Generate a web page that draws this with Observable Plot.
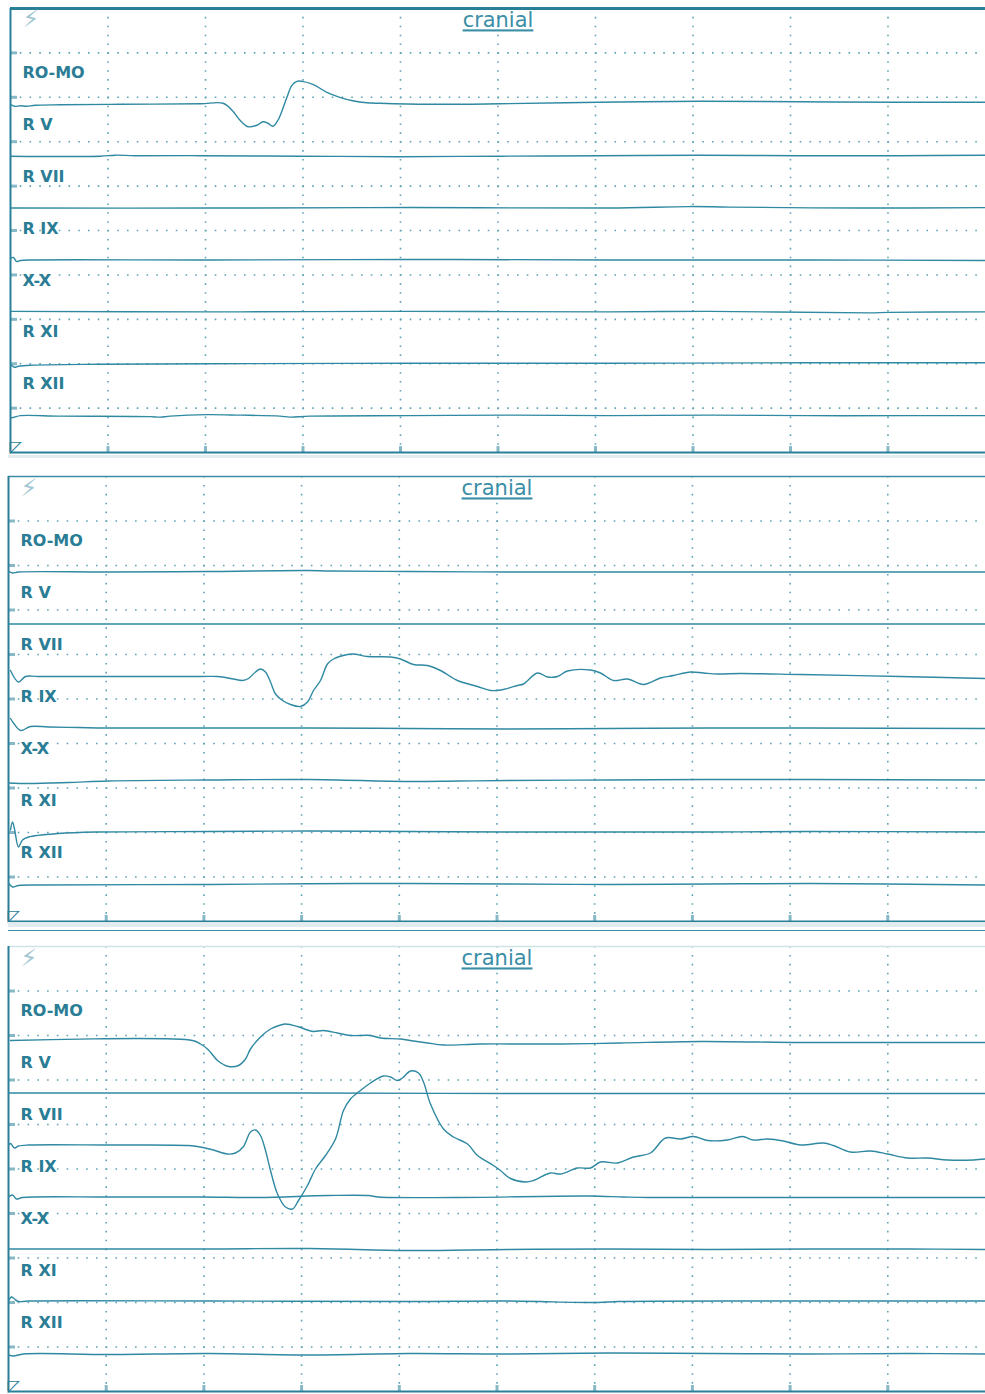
<!DOCTYPE html>
<html><head><meta charset="utf-8">
<script src="https://cdn.jsdelivr.net/npm/d3@7"></script>
<script src="https://cdn.jsdelivr.net/npm/@observablehq/plot@0.6"></script>
<style>
body{margin:0;background:#fff;}
#wrap{position:relative;width:985px;height:1394px;overflow:hidden;background:#fff;}
.panel{position:absolute;left:0;}
.band{position:absolute;left:8px;width:977px;}
</style></head><body><div id="wrap"></div>
<script>
// ---- data (time in sweep units, 977 per 10 divisions; amplitude in units, 44.5 per division, positive up)
const channels = ["RO-MO", "R V", "R VII", "R IX", "X-X", "R XI", "R XII"];
const title = "cranial";

// Panel 1
const p1_ROMO = [[0,-0.5],[4,-2.5],[10,-2],[16,-2.5],[25,-1.5],[50,-1],[110,-0.5],[190,0],[213,0.5],[222,-6.5],[230,-16.5],[238,-23],[247,-21.5],[253,-18],[258,-19.5],[263,-22.5],[268,-16.5],[273,-4.5],[277,6.5],[282,18.5],[287,22.5],[292,22.5],[303,19.5],[317,11.5],[330,6.5],[343,3],[357,1],[370,0.5],[420,-0.5],[490,0],[590,1.5],[690,2.5],[790,2],[890,1.5],[977,1.5]];
const p1_RV = [[0,-0.5],[90,-0.5],[105,0.5],[125,0],[190,0],[290,-0.5],[390,-1],[490,-0.5],[590,0],[690,0.5],[790,0],[890,0],[977,0.5]];
const p1_RVII = [[0,-0.5],[200,-0.5],[400,0],[600,-0.5],[680,1],[720,0.5],[850,-0.5],[977,0]];
const p1_RIX = [[0,1],[3,2],[6,-2],[10,-1],[20,-0.5],[200,-0.5],[400,0],[600,-0.5],[800,-0.5],[977,-1]];
const p1_XX = [[0,0],[200,-0.5],[400,0],[600,-0.5],[700,0],[860,-1.5],[880,-1],[977,-0.5]];
const p1_RXI = [[0,-1],[4,-4],[8,-3],[20,-2],[90,-1],[200,-0.5],[400,0],[600,0],[800,0.5],[977,0.5]];
const p1_RXII = [[0,-3],[4,-2],[10,-0.5],[50,-1],[140,-1.5],[150,-2],[160,-1],[197,0.5],[230,0],[270,-1],[280,-2],[300,-1],[400,-0.5],[500,0],[600,-0.5],[700,0],[800,-0.5],[900,-0.5],[977,-0.5]];

// Panel 2
const p2_ROMO = [[0,1],[4,-1],[10,0],[100,0],[200,0.5],[300,1.5],[320,1],[400,0.5],[500,0],[600,0],[700,0],[800,0],[977,0]];
const p2_RV = [[0,0],[200,0],[400,0],[600,0],[800,0],[977,0]];
const p2_RVII = [[2,5.5],[10,-6],[17,-0.5],[30,-0.5],[192,-0.5],[209,-0.5],[225,-3],[234,-4.5],[240,-2.5],[247,4],[252,7],[257,4],[262,-6],[267,-18],[274,-24.5],[282,-28.5],[292,-30.5],[299,-26],[305,-14.5],[312,-4.5],[319,12],[325,17],[339,21.5],[345,22],[359,19.5],[382,19],[392,17],[405,11.5],[419,10.5],[432,5.5],[449,-4.5],[469,-10.5],[482,-14.5],[492,-14],[509,-9.5],[515,-8],[529,3],[539,-1],[549,-0.5],[559,5],[582,6],[592,3],[605,-4.5],[619,-3],[635,-8.5],[652,-2],[665,0.5],[682,4],[695,3],[709,2],[732,2.5],[792,1.5],[892,-0.5],[977,-2.5]];
const p2_RIX = [[2,9.5],[5,5],[12,-2.5],[22,1.5],[40,1],[70,0.5],[100,0],[300,0],[400,-0.5],[500,-1],[600,-0.5],[700,0],[800,0],[977,-0.5]];
const p2_XX = [[0,-3],[20,-3.5],[60,-2.5],[100,-1],[200,0],[300,0.5],[400,-1.5],[450,-1],[500,-0.5],[600,0],[700,0.5],[800,0.5],[977,0]];
const p2_RXI = [[2,2],[4,10],[6,3],[10,-15],[14,-8],[20,-5],[50,-1.5],[90,0],[200,0.5],[300,1],[400,0.5],[500,0],[600,0],[700,0],[800,0.5],[977,0]];
const p2_RXII = [[0,1],[4,-3],[10,-1.5],[30,-1],[200,-0.5],[350,0.5],[500,0],[600,-0.5],[700,0],[800,0.5],[977,-1]];

// Panel 3
const p3_ROMO = [[2,1.5],[184,1.5],[192,-2],[199,-7],[209,-18.5],[215,-22.5],[220,-24.5],[230,-23.5],[237,-17],[242,-7],[252,5],[262,13],[272,17],[277,18],[289,15.5],[299,12],[305,10.5],[315,11.5],[329,9],[342,6.5],[362,6.5],[372,4],[392,3],[405,1],[419,-1],[435,-3],[472,-2],[552,-2],[612,-1],[692,0.5],[792,-0.5],[892,-0.5],[977,-0.5]];
const p3_RV = [[0,1],[150,1],[300,1],[500,0.5],[700,0.5],[900,0.5],[977,0.5]];
const p3_RVII = [[0,0.5],[2,2.5],[6,-2],[10,0],[20,1],[100,1],[180,0.5],[192,-1],[205,-4],[219,-8],[227,-7],[235,-0.5],[242,14],[247,16],[252,10.5],[257,-4.5],[262,-24.5],[269,-48],[277,-61],[284,-63],[290,-54.5],[299,-39.5],[307,-23],[317,-9.5],[327,7],[335,35.5],[342,47],[352,55.5],[362,63],[375,70],[382,69],[389,65.5],[394,68],[402,75],[410,73],[415,64],[422,42],[435,17],[445,9],[459,2],[469,-9.5],[485,-19.5],[492,-24.5],[502,-32.5],[517,-36],[525,-34.5],[542,-27],[552,-28],[569,-22],[582,-22],[592,-16],[609,-17],[625,-11],[642,-7],[657,8],[672,7],[685,9.5],[699,5.5],[719,6],[734,9.5],[745,6],[759,7],[775,5],[792,1],[815,3],[825,0.5],[842,-6],[862,-5],[879,-8],[899,-12],[919,-12],[939,-14],[965,-14],[977,-13]];
const p3_RIX = [[0,1],[4,3],[8,-1],[14,0.5],[100,1],[192,1],[250,0.5],[320,2.5],[360,2.5],[370,1],[445,0.5],[580,2],[615,1],[640,0.5],[800,0.5],[977,0.5]];
const p3_XX = [[0,1],[100,1],[200,1],[300,1.5],[400,-0.5],[500,0.5],[600,1],[700,0.5],[800,1],[900,1],[977,0.5]];
const p3_RXI = [[0,1],[3,5],[6,3],[10,0.5],[20,1],[200,1],[400,0.5],[500,1],[590,-0.5],[610,0.5],[800,1],[977,1]];
const p3_RXII = [[0,-1],[5,-2],[15,0],[100,-0.5],[200,0.5],[300,-1],[400,0.5],[500,0],[600,1],[700,0.5],[800,0],[900,0.5],[977,0]];

// ---- layout & style
const SWEEP = 977, SPAN = 445, DIVS = 10;
const base = k => 95.5 + 52 * k;
const TRACE = "#2f89a2", FRAME = "#2a7f98", GRID = "#5ea2b6", TICK = "#86b8c6", LABEL = "#2a7d95";
const gridX = d3.range(1, DIVS).map(i => i * SWEEP / DIVS);
const gridY = d3.range(1, DIVS).map(i => i * SPAN / DIVS);

const panels = [
  {top: 0, left: 10, width: 987, traces: [p1_ROMO, p1_RV, p1_RVII, p1_RIX, p1_XX, p1_RXI, p1_RXII], topStroke: FRAME, topWidth: 3},
  {top: 468, left: 8, width: 985, traces: [p2_ROMO, p2_RV, p2_RVII, p2_RIX, p2_XX, p2_RXI, p2_RXII], topStroke: "#3c8ea6", topWidth: 1.5},
  {top: 938, left: 8, width: 985, traces: [p3_ROMO, p3_RV, p3_RVII, p3_RIX, p3_XX, p3_RXI, p3_RXII], topStroke: "#cfe2e8", topWidth: 1.5}
];

const wrap = document.getElementById("wrap");

for (const cfg of panels) {
  const lines = cfg.traces.flatMap((arr, k) => arr.map(([t, v]) => ({t, y: base(k) - v, k})));
  const svg = Plot.plot({
    width: cfg.width, height: 457,
    marginTop: 8, marginBottom: 4, marginLeft: cfg.left, marginRight: 0,
    x: {domain: [0, SWEEP], axis: null},
    y: {domain: [0, SPAN], reverse: true, axis: null},
    style: {background: "transparent", overflow: "visible"},
    marks: [
      Plot.ruleY(gridY, {stroke: GRID, strokeWidth: 1.6, strokeDasharray: "1.6 8.17"}),
      Plot.ruleX(gridX, {stroke: GRID, strokeWidth: 1.6, strokeDasharray: "1.6 7.3"}),
      Plot.ruleY(gridY, {x1: () => 0, x2: () => 7, stroke: TICK, strokeWidth: 3}),
      Plot.ruleX(gridX, {y1: () => SPAN - 6, y2: () => SPAN, stroke: TICK, strokeWidth: 3}),
      Plot.ruleY([0], {stroke: cfg.topStroke, strokeWidth: cfg.topWidth}),
      Plot.ruleY([SPAN], {stroke: FRAME, strokeWidth: 2}),
      Plot.ruleX([0], {stroke: FRAME, strokeWidth: 2}),
      Plot.line(lines, {x: "t", y: "y", z: "k", stroke: TRACE, strokeWidth: 1.4, curve: "catmull-rom"}),
      Plot.text(channels, {frameAnchor: "left", dx: 12, y: (d, i) => base(i) - 31, text: d => d,
        fill: LABEL, fontSize: 16, fontWeight: "bold", fontFamily: "DejaVu Sans", textAnchor: "start"}),
      Plot.text([title], {frameAnchor: "top", dy: 4, lineAnchor: "top", text: d => d,
        fill: "#3a8ea6", fontSize: 21, fontFamily: "DejaVu Sans"}),
      Plot.text(["⚡"], {frameAnchor: "top-left", dx: 12, dy: 2, lineAnchor: "top", textAnchor: "start", text: d => d,
        fill: "#a3c7d2", fontSize: 24, fontFamily: "DejaVu Sans"}),
      Plot.text(["◸"], {frameAnchor: "bottom-left", dx: -1, dy: -1, lineAnchor: "bottom", textAnchor: "start", text: d => d,
        fill: FRAME, fontSize: 16, fontFamily: "DejaVu Sans"})
    ]
  });
  svg.classList.add("panel");
  svg.style.top = cfg.top + "px";
  svg.querySelectorAll("text").forEach(t => {
    if (t.textContent === title) t.setAttribute("text-decoration", "underline");
  });
  wrap.appendChild(svg);
}

// separator bands between panels
[[455, 3, "#e2ecef"], [922, 5, "#e2ecef"], [929.5, 1.5, "#3a8ea6"]].forEach(([top, h, c]) => {
  const d = document.createElement("div");
  d.className = "band";
  d.style.top = top + "px"; d.style.height = h + "px"; d.style.background = c;
  wrap.appendChild(d);
});
</script>
</body></html>
